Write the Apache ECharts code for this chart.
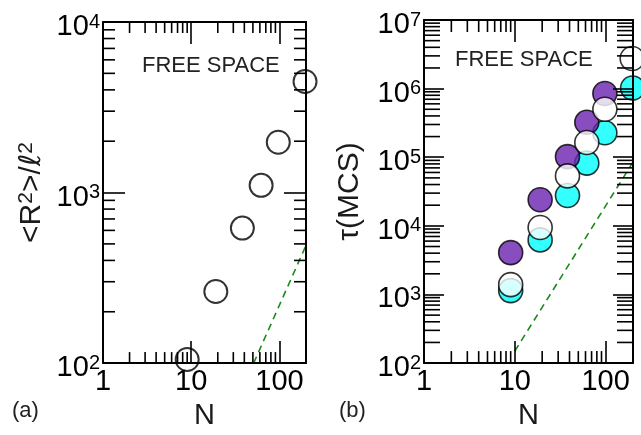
<!DOCTYPE html>
<html>
<head>
<meta charset="utf-8">
<script src="https://cdn.jsdelivr.net/npm/echarts@6/dist/echarts.min.js"></script>
<style>html,body{margin:0;padding:0;background:#fff}#c{width:641px;height:435px}</style>
</head>
<body>
<div id="c"></div>
<script>
// ---- data ----
const nA = [9, 19, 38, 62, 97, 195];
const r2A = [105, 263, 619, 1102, 1972, 4480];

const nPurple = [9, 19, 38, 62, 98];
const tauPurple = [4070, 24000, 102000, 323000, 849000];
const nWhite = [9, 19, 38, 62, 98, 196];
const tauWhite = [1390, 9460, 53500, 164000, 501000, 2750000];
const nCyan = [9, 19, 38, 62, 98, 198];
const tauCyan = [1140, 6240, 27700, 82000, 227000, 1020000];

const guideA_N = [51, 200];
const guideA_V = [100, 490];
const guideB_N = [10, 200];
const guideB_V = [150, 85000];

const xMinorTicks = [2,3,4,5,6,7,8,9,20,30,40,50,60,70,80,90];
const yMinorA = [200,300,400,500,600,700,800,900,2000,3000,4000,5000,6000,7000,8000,9000];
const yMinorB = [];
[100,1000,10000,100000,1000000].forEach(d => { for (let k = 2; k <= 9; k++) yMinorB.push(d * k); });

// ---- styling ----
const FONT = 'Liberation Sans, Arial, Helvetica, sans-serif';
const TXT = '#1a1a1a';

function pow10Label(v) {
  const e = Math.round(Math.log10(v));
  if (Math.abs(v - Math.pow(10, e)) > 1e-6 * v) return '';
  return '10{s|' + e + '}';
}
function plainPowLabel(v) {
  const e = Math.round(Math.log10(v));
  if (Math.abs(v - Math.pow(10, e)) > 1e-6 * v) return '';
  return String(v);
}

const axisLineStyle = { show: true, lineStyle: { color: '#000', width: 2 } };

function xAxes(gi, majorLen) {
  return [
    { type: 'log', gridIndex: gi, min: 1, max: 200, position: 'bottom', z: 10,
      axisLine: axisLineStyle, splitLine: { show: false },
      axisTick: { inside: true, length: majorLen, lineStyle: { color: '#000', width: 1.6 } },
      axisLabel: { formatter: plainPowLabel, color: '#000', fontSize: 29, fontFamily: FONT, margin: 4 },
      name: 'N', nameLocation: 'middle', nameGap: 31,
      nameTextStyle: { fontSize: 29, fontFamily: FONT, color: TXT } },
    { type: 'log', gridIndex: gi, min: 1, max: 200, position: 'top', z: 10,
      axisLine: axisLineStyle, splitLine: { show: false },
      axisTick: { inside: true, length: majorLen, lineStyle: { color: '#000', width: 1.6 } },
      axisLabel: { show: false } }
  ];
}
function yAxes(gi, min, max, majorLen, name, nameRich, nameGap) {
  return [
    { type: 'log', gridIndex: gi, min: min, max: max, position: 'left', z: 10,
      axisLine: axisLineStyle, splitLine: { show: false },
      axisTick: { inside: true, length: majorLen, lineStyle: { color: '#000', width: 1.6 } },
      axisLabel: { formatter: pow10Label, color: '#000', fontSize: 29, lineHeight: 30, fontFamily: FONT, margin: 3,
        padding: [10, 0, 0, 0],
        rich: { s: { fontSize: 20, lineHeight: 10, verticalAlign: 'top', fontFamily: FONT, color: '#000' } } },
      name: name, nameLocation: 'middle', nameGap: nameGap, nameRotate: 90,
      nameTextStyle: { fontSize: 30, lineHeight: 32, fontFamily: FONT, color: TXT, rich: nameRich } },
    { type: 'log', gridIndex: gi, min: min, max: max, position: 'right', z: 10,
      axisLine: axisLineStyle, splitLine: { show: false },
      axisTick: { inside: true, length: majorLen, lineStyle: { color: '#000', width: 1.6 } },
      axisLabel: { show: false } }
  ];
}

function minorTickSeries(xi, yi, vals, isX, len, xMinVal, yMinVal) {
  return {
    type: 'custom', xAxisIndex: xi, yAxisIndex: yi, z: 10, silent: true,
    data: vals.map(v => isX ? [v, yMinVal] : [xMinVal, v]),
    renderItem: function (params, api) {
      const cs = params.coordSys;
      const p = api.coord([api.value(0), api.value(1)]);
      const st = { stroke: '#000', lineWidth: 1.6 };
      if (isX) {
        return { type: 'group', children: [
          { type: 'line', shape: { x1: p[0], y1: cs.y + cs.height, x2: p[0], y2: cs.y + cs.height - len }, style: st },
          { type: 'line', shape: { x1: p[0], y1: cs.y, x2: p[0], y2: cs.y + len }, style: st }
        ]};
      }
      return { type: 'group', children: [
        { type: 'line', shape: { x1: cs.x, y1: p[1], x2: cs.x + len, y2: p[1] }, style: st },
        { type: 'line', shape: { x1: cs.x + cs.width, y1: p[1], x2: cs.x + cs.width - len, y2: p[1] }, style: st }
      ]};
    }
  };
}

const zip = (a, b) => a.map((v, i) => [v, b[i]]);

const supRich = {
  s: { fontSize: 21, lineHeight: 8, verticalAlign: 'top', fontFamily: FONT, color: TXT },
  l: { fontSize: 30, lineHeight: 32, fontFamily: 'DejaVu Sans, Liberation Serif, serif', fontStyle: 'italic', color: TXT }
};

const option = {
  backgroundColor: '#fff',
  animation: false,
  grid: [
    { left: 103, top: 22, width: 203, height: 346 },
    { left: 424, top: 20, width: 209, height: 350 }
  ],
  xAxis: [].concat(xAxes(0, 22), xAxes(1, 22)),
  yAxis: [].concat(
    yAxes(0, 100, 10000, 22, '<R{s|2}>/{l|ℓ}{s|2}', supRich, 55),
    yAxes(1, 100, 10000000, 20, 'τ(MCS)', supRich, 58)
  ),
  graphic: [
    { type: 'text', left: 142, top: 55, style: { text: 'FREE SPACE', fontSize: 22, fontFamily: FONT, fill: '#222' } },
    { type: 'text', left: 455, top: 49, style: { text: 'FREE SPACE', fontSize: 22, fontFamily: FONT, fill: '#222' } },
    { type: 'text', left: 12, top: 400, style: { text: '(a)', fontSize: 22, fontFamily: FONT, fill: '#222' } },
    { type: 'text', left: 339, top: 400, style: { text: '(b)', fontSize: 22, fontFamily: FONT, fill: '#222' } }
  ],
  series: [
    minorTickSeries(0, 0, xMinorTicks, true, 11, 1, 100),
    minorTickSeries(0, 0, yMinorA, false, 12, 1, 100),
    minorTickSeries(2, 2, xMinorTicks, true, 12, 1, 100),
    minorTickSeries(2, 2, yMinorB, false, 16, 1, 100),
    { type: 'line', xAxisIndex: 0, yAxisIndex: 0, data: zip(guideA_N, guideA_V), symbol: 'none', z: 1,
      lineStyle: { color: '#1a8a1a', width: 1.6, type: [7, 5] } },
    { type: 'scatter', xAxisIndex: 0, yAxisIndex: 0, data: zip(nA, r2A), symbol: 'circle', symbolSize: 23, clip: false, z: 2,
      itemStyle: { color: 'rgba(255,255,255,0)', borderColor: '#000', borderWidth: 2 } },
    { type: 'line', xAxisIndex: 2, yAxisIndex: 2, data: zip(guideB_N, guideB_V), symbol: 'none', z: 1,
      lineStyle: { color: '#1a8a1a', width: 1.6, type: [7, 5] } },
    { type: 'scatter', xAxisIndex: 2, yAxisIndex: 2, data: zip(nCyan, tauCyan), symbol: 'circle', symbolSize: 24, clip: false, z: 2,
      itemStyle: { color: '#00ffff', borderColor: '#000', borderWidth: 1.6 } },
    { type: 'scatter', xAxisIndex: 2, yAxisIndex: 2, data: zip(nPurple, tauPurple), symbol: 'circle', symbolSize: 24, clip: false, z: 3,
      itemStyle: { color: '#6a22b0', borderColor: '#000', borderWidth: 1.6 } },
    { type: 'scatter', xAxisIndex: 2, yAxisIndex: 2, data: zip(nWhite, tauWhite), symbol: 'circle', symbolSize: 24, clip: false, z: 4,
      itemStyle: { color: '#fff', borderColor: '#000', borderWidth: 1.6 } }
  ]
};

const chart = echarts.init(document.getElementById('c'), null, { renderer: 'canvas' });
chart.setOption(option);
</script>
</body>
</html>
